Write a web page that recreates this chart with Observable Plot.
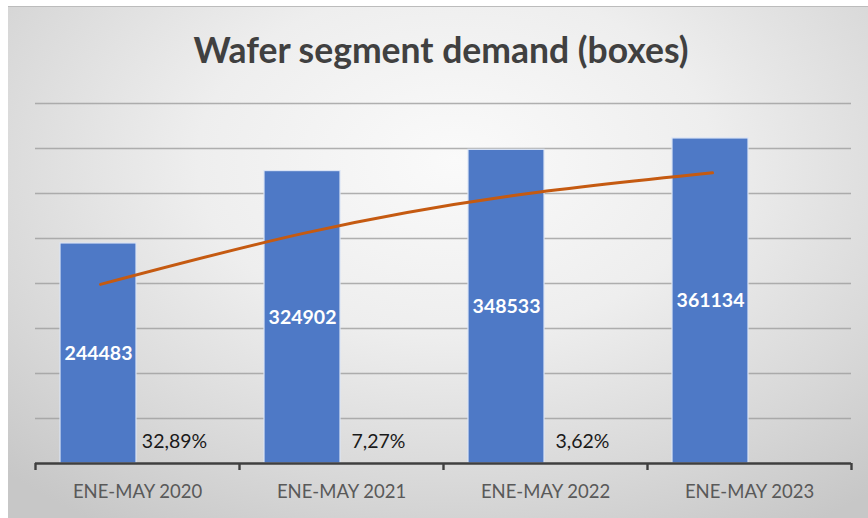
<!DOCTYPE html>
<html>
<head>
<meta charset="utf-8">
<script src="https://cdn.jsdelivr.net/npm/d3@7"></script>
<script src="https://cdn.jsdelivr.net/npm/@observablehq/plot@0.6"></script>
<style>
  html, body { margin: 0; padding: 0; background: #ffffff; }
  body { width: 868px; height: 518px; position: relative; overflow: hidden; font-family: Lato, "Open Sans", sans-serif; }
  #bg { position: absolute; left: 8px; top: 6px; width: 860px; height: 512px;
        border-top: 1px solid #bcbcbc;
        background: radial-gradient(ellipse 75% 85% at 52% 30%, #fafafa 0%, #eeeeee 40%, #d8d8d8 75%, #c7c7c7 100%); }
  #title { position: absolute; left: 0; top: 30px; width: 868px; text-align: center; padding-left: 14px; box-sizing: border-box;
           font-family: Lato, sans-serif; font-weight: 700; font-size: 35.5px; line-height: 40px; color: #404040; }
  #chart { position: absolute; left: 0; top: 90px; }
  #chart svg { background: transparent; overflow: visible; }
</style>
</head>
<body>
<div id="bg"></div>
<div id="title">Wafer segment demand (boxes)</div>
<div id="chart"></div>
<script>
const categories = ["ENE-MAY 2020", "ENE-MAY 2021", "ENE-MAY 2022", "ENE-MAY 2023"];
const demand = [244483, 324902, 348533, 361134];
const growthLabels = ["32,89%", "7,27%", "3,62%", null];
const trend = [199000, 256000, 297000, 323000];
const gridTicks = [50000, 100000, 150000, 200000, 250000, 300000, 350000, 400000];

const rows = categories.map((c, i) => ({cat: c, value: demand[i], growth: growthLabels[i], trend: trend[i]}));
const growthRows = rows.filter(d => d.growth);
const tickRows = categories.map((c, i) => ({cat: c, dx: -102}))
  .concat([{cat: categories[categories.length - 1], dx: 102}]);

const chart = Plot.plot({
  width: 868,
  height: 428,
  marginLeft: 35,
  marginRight: 17,
  marginTop: 13,
  marginBottom: 55,
  style: {background: "transparent", fontFamily: "Lato, sans-serif"},
  x: {domain: categories, padding: 0},
  y: {domain: [0, 400000], axis: null},
  marks: [
    Plot.ruleY(gridTicks, {stroke: "#9e9e9e", strokeWidth: 1.3, strokeOpacity: 0.8}),
    Plot.barY(rows, {x: "cat", y: "value", fill: "#4e79c6", stroke: "#dbe4f5", strokeWidth: 1.2,
                     insetLeft: 25, insetRight: 103}),
    Plot.ruleY([0], {stroke: "#3f3f3f", strokeWidth: 2.4}),
    ...tickRows.map(t => Plot.ruleX([t], {x: "cat", y1: 0, y2: 0, dx: t.dx, insetBottom: -7,
                                         stroke: "#3f3f3f", strokeWidth: 2.4})),
    Plot.line(rows, {x: "cat", y: "trend", dx: -37, curve: "natural", stroke: "#c55a11", strokeWidth: 3, strokeLinecap: "round"}),
    Plot.text(rows, {x: "cat", y: d => d.value / 2, text: d => String(d.value), dx: -39,
                     fill: "white", fontWeight: 700, fontSize: 19.5}),
    Plot.text(growthRows, {x: "cat", y: 0, text: "growth", dx: 37, dy: -22,
                           fill: "#1a1a1a", fontSize: 19.5}),
    Plot.axisX({tickSize: 0, tickPadding: 21, fontSize: 18.5, color: "#595959", label: null})
  ]
});
document.getElementById("chart").appendChild(chart);
</script>
</body>
</html>
